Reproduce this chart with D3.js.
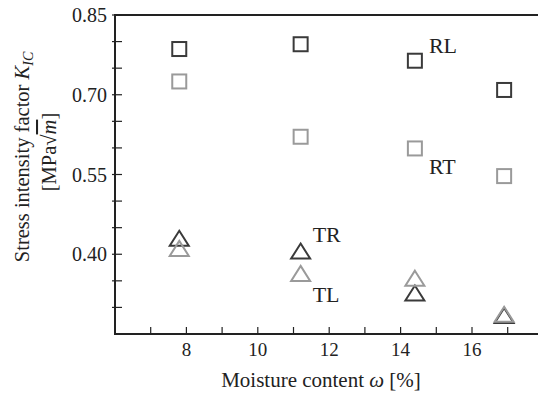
<!DOCTYPE html>
<html>
<head>
<meta charset="utf-8">
<script src="https://cdn.jsdelivr.net/npm/d3@7"></script>
<style>
  body { margin: 0; background: #fff; }
  svg { display: block; }
  text { font-family: "Liberation Serif", "DejaVu Serif", serif; fill: #222; }
</style>
</head>
<body>
<svg id="chart" width="538" height="395"></svg>
<script>
// moisture content [%]
const moisture = [7.8, 11.2, 14.4, 16.9];
// K_IC per orientation
const rl = [0.786, 0.795, 0.764, 0.709];
const rt = [0.725, 0.621, 0.599, 0.547];
const tr = [0.430, 0.406, 0.327, 0.285];
const tl = [0.411, 0.364, 0.355, 0.287];
const yTickLabels = [0.40, 0.55, 0.70, 0.85];
const xTickLabels = [8, 10, 12, 14, 16];

const svg = d3.select('#chart');
const margin = { left: 115, top: 15, bottom: 61 };
const height = +svg.attr('height');

const x = d3.scaleLinear().domain([6, 18]).range([margin.left, margin.left + 12 * 35.7]);
const y = d3.scaleLinear().domain([0.25, 0.85]).range([height - margin.bottom, margin.top]);

const dark = '#3a3a3a';
const light = '#9a9a9a';

// frame
const x0 = x.range()[0], x1 = x.range()[1];
const y0 = y.range()[0], y1 = y.range()[1];
svg.append('path')
  .attr('d', `M${x1},${y1}H${x0}V${y0}H${x1}`)
  .attr('fill', 'none')
  .attr('stroke', '#222')
  .attr('stroke-width', 2);

// ticks (inward)
const xTicks = d3.range(7, 18, 1);
svg.selectAll('.xt').data(xTicks).enter().append('line')
  .attr('x1', d => x(d)).attr('x2', d => x(d))
  .attr('y1', y0).attr('y2', y0 - 7)
  .attr('stroke', '#222').attr('stroke-width', 1.2);
const yTicks = d3.range(0.30, 0.851, 0.05);
svg.selectAll('.yt').data(yTicks).enter().append('line')
  .attr('x1', x0 - 3).attr('x2', x0 + 7)
  .attr('y1', d => y(d)).attr('y2', d => y(d))
  .attr('stroke', '#222').attr('stroke-width', 1.2);

svg.selectAll('.xl').data(xTickLabels).enter().append('text')
  .attr('x', d => x(d)).attr('y', y0 + 22)
  .attr('text-anchor', 'middle')
  .style('font-size', '19px')
  .text(d => d);
svg.selectAll('.yl').data(yTickLabels).enter().append('text')
  .attr('x', x0 - 8).attr('y', d => y(d))
  .attr('dy', '0.35em')
  .attr('text-anchor', 'end')
  .style('font-size', '20px')
  .text(d => d.toFixed(2));

// axis titles
const xt = svg.append('text')
  .attr('x', 321).attr('y', 387)
  .attr('text-anchor', 'middle')
  .style('font-size', '21px');
xt.append('tspan').text('Moisture content ');
xt.append('tspan').style('font-style', 'italic').text('ω');
xt.append('tspan').text(' [%]');

const yt = svg.append('text')
  .attr('transform', 'translate(29,157) rotate(-90)')
  .attr('text-anchor', 'middle')
  .style('font-size', '20.5px');
yt.append('tspan').text('Stress intensity factor ');
yt.append('tspan').style('font-style', 'italic').text('K');
yt.append('tspan').style('font-style', 'italic').style('font-size', '14px').attr('dy', 4).text('IC');

const yt2 = svg.append('text')
  .attr('transform', 'translate(56,152) rotate(-90)')
  .attr('text-anchor', 'middle')
  .style('font-size', '20.5px');
yt2.append('tspan').text('[MPa√');
yt2.append('tspan').style('font-style', 'italic').style('text-decoration', 'overline').text('m');
yt2.append('tspan').text(']');

// markers
function squares(vals, color) {
  svg.append('g').selectAll('rect').data(vals).enter().append('rect')
    .attr('x', (d, i) => x(moisture[i]) - 7)
    .attr('y', d => y(d) - 7)
    .attr('width', 14).attr('height', 14)
    .attr('fill', 'none').attr('stroke', color).attr('stroke-width', 2);
}
function triangles(vals, color) {
  svg.append('g').selectAll('path').data(vals).enter().append('path')
    .attr('d', (d, i) => {
      const cx = x(moisture[i]), cy = y(d);
      return `M${cx},${cy - 7.5}L${cx + 9.5},${cy + 7.5}L${cx - 9.5},${cy + 7.5}Z`;
    })
    .attr('fill', 'none').attr('stroke', color).attr('stroke-width', 2)
    .attr('stroke-linejoin', 'miter');
}
squares(rt, light);
squares(rl, dark);
triangles(tr, dark);
triangles(tl, light);

// series labels
const labels = [
  { t: 'RL', mx: 14.4, v: rl[2], dx: 14, dy: -8 },
  { t: 'RT', mx: 14.4, v: rt[2], dx: 14, dy: 26 },
  { t: 'TR', mx: 11.2, v: tr[1], dx: 12, dy: -9 },
  { t: 'TL', mx: 11.2, v: tl[1], dx: 12, dy: 29 }
];
svg.selectAll('.lab').data(labels).enter().append('text')
  .attr('x', d => x(d.mx) + d.dx)
  .attr('y', d => y(d.v) + d.dy)
  .style('font-size', '22px')
  .text(d => d.t);
</script>
</body>
</html>
